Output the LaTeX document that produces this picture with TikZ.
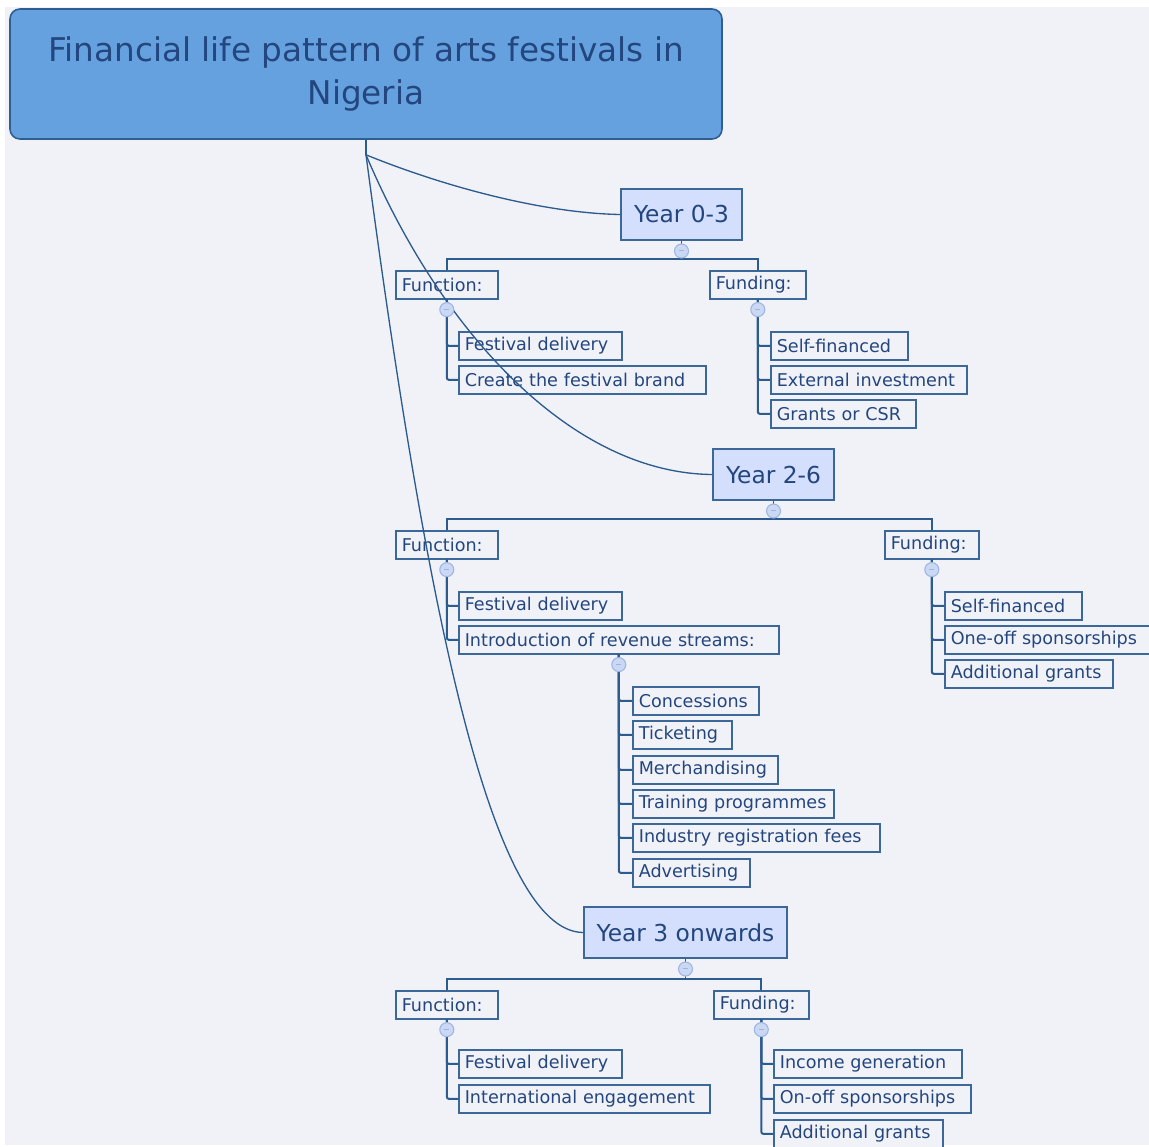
\documentclass[tikz,border=0pt]{standalone}
\usepackage{fontspec}
\setmainfont{DejaVu Sans}
\usetikzlibrary{calc}
\definecolor{bgpage}{HTML}{F1F2F8}
\definecolor{rootfill}{HTML}{66A1DF}
\definecolor{rootline}{HTML}{2F5E92}
\definecolor{yearfill}{HTML}{D3DFFC}
\definecolor{boxline}{HTML}{3B6898}
\definecolor{inkblue}{HTML}{23467E}
\definecolor{linkblue}{HTML}{2C5B8E}
\definecolor{knobfill}{HTML}{CAD8F4}
\definecolor{knobline}{HTML}{9DB5E2}
\tikzset{
	rootbox/.style={draw=rootline,line width=1.2pt,fill=rootfill,rounded corners=7.5pt,
		text=inkblue,align=center,font=\fontsize{24.5}{32}\selectfont,inner sep=0pt},
	yearbox/.style={draw=boxline,line width=1.5pt,fill=yearfill,text=inkblue,
		font=\fontsize{17.5}{20}\selectfont,anchor=north west,minimum height=38.25pt,inner sep=0pt},
	leafbox/.style={draw=boxline,line width=1.2pt,fill=bgpage,text=inkblue,
		font=\fontsize{13.2}{15}\selectfont,anchor=north west,minimum height=21pt,
		inner xsep=4.5pt,inner ysep=0pt,align=left},
	knob/.style={circle,draw=knobline,fill=knobfill,line width=0.8pt,minimum size=10.5pt,inner sep=0pt},
	link/.style={draw=linkblue,line width=1pt},
	bar/.style={draw=linkblue,line width=1.4pt},
	stem/.style={draw=linkblue,line width=1.5pt,rounded corners=1.5pt},
}
% name, x, y, width (px), text
\newcommand{\Leaf}[5]{
	\pgfmathsetmacro{\leafw}{0.75*#4-9}
	\node[leafbox,text width=\leafw pt] (#1) at (#2,#3) {\mbox{#5}};
}
\newcommand{\Year}[5]{
	\pgfmathsetmacro{\yearw}{0.75*#4}
	\node[yearbox,minimum width=\yearw pt] (#1) at (#2,#3) {#5};
}
\newcommand{\Knob}[2]{
	\node[knob] (#1) at (#2) {\color{knobline}\rule[0.2pt]{4pt}{0.7pt}};
}

\begin{document}
\begin{tikzpicture}[x=0.75pt,y=-0.75pt]
\clip (0,0) rectangle (1149,1146);
\fill[white] (0,0) rectangle (1149,1146);
\fill[bgpage] (5,7) rectangle (1149,1145);

%title
\node[rootbox,minimum width=534pt,minimum height=97.5pt] (root) at (366,74)
	{Financial life pattern of arts festivals in\\Nigeria};

%years
\Year{y1}{620}{188}{121}{Year 0-3}
\Year{y2}{712}{448}{121}{Year 2-6}
\Year{y3}{583}{906}{203}{Year 3 onwards}

%year 0-3
\Leaf{f1}{395}{270}{102}{Function:}
\Leaf{d1}{709}{270}{96}{Funding:}
\Leaf{k11}{458}{331}{163}{Festival delivery}
\Leaf{k12}{458}{365}{247}{Create the festival brand}
\Leaf{g11}{770}{331}{137}{Self-financed}
\Leaf{g12}{770}{365}{196}{External investment}
\Leaf{g13}{770}{399}{145}{Grants or CSR}

%year 2-6
\Leaf{f2}{395}{530}{102}{Function:}
\Leaf{d2}{884}{530}{94}{Funding:}
\Leaf{k21}{458}{591}{163}{Festival delivery}
\Leaf{k22}{458}{625}{320}{Introduction of revenue streams:}
\Leaf{r1}{632}{686}{126}{Concessions}
\Leaf{r2}{632}{720}{99}{Ticketing}
\Leaf{r3}{632}{755}{145}{Merchandising}
\Leaf{r4}{632}{789}{201}{Training programmes}
\Leaf{r5}{632}{823}{247}{Industry registration fees}
\Leaf{r6}{632}{858}{117}{Advertising}
\Leaf{g21}{944}{591}{137}{Self-financed}
\Leaf{g22}{944}{625}{210}{One-off sponsorships}
\Leaf{g23}{944}{659}{168}{Additional grants}

%year 3 onwards
\Leaf{f3}{395}{990}{102}{Function:}
\Leaf{d3}{713}{990}{95}{Funding:}
\Leaf{k31}{458}{1049}{163}{Festival delivery}
\Leaf{k32}{458}{1084}{251}{International engagement}
\Leaf{g31}{773}{1049}{188}{Income generation}
\Leaf{g32}{773}{1084}{197}{On-off sponsorships}
\Leaf{g33}{773}{1119}{169}{Additional grants}

%curves from the title
\draw[link] (root.south) -- ++(0,15) coordinate (hub);
\draw[link] (hub) .. controls (440,185) and (540,213) .. (y1.west);
\draw[link] (hub) .. controls (440,330) and (570,473) .. (y2.west);
\draw[link] (hub) .. controls (425,600) and (490,931) .. (y3.west);

%bars
\coordinate (b1) at ($(y1.south)+(0,18)$);
\coordinate (b2) at ($(y2.south)+(0,18)$);
\coordinate (b3) at ($(y3.south)+(0,20)$);
\foreach \y in {1,2,3}{
	\draw[link] (y\y.south) -- (b\y);
	\draw[bar] (f\y.north) |- (b\y) -| (d\y.north);
}

%stems
\foreach \k in {k11,k12} \draw[stem] (f1.south) |- (\k.west);
\foreach \k in {g11,g12,g13} \draw[stem] (d1.south) |- (\k.west);
\foreach \k in {k21,k22} \draw[stem] (f2.south) |- (\k.west);
\foreach \k in {r1,r2,r3,r4,r5,r6} \draw[stem] (k22.south) |- (\k.west);
\foreach \k in {g21,g22,g23} \draw[stem] (d2.south) |- (\k.west);
\foreach \k in {k31,k32} \draw[stem] (f3.south) |- (\k.west);
\foreach \k in {g31,g32,g33} \draw[stem] (d3.south) |- (\k.west);

%knobs
\foreach \n in {y1,y2,y3,f1,d1,f2,d2,k22,f3,d3}{
	\Knob{c\n}{$(\n.south)+(0,10)$}
}
\end{tikzpicture}
\end{document}
